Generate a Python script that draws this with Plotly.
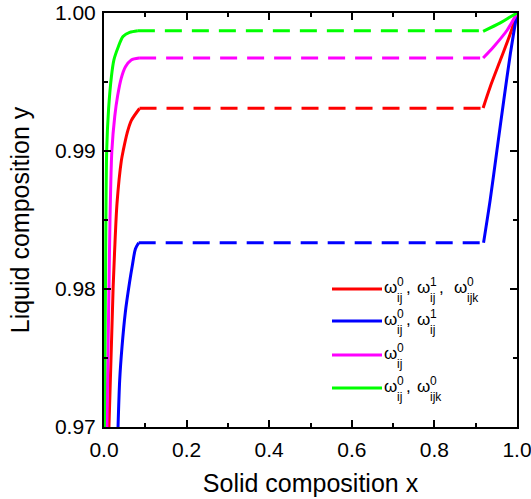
import plotly.graph_objects as go

# ---------------- data ----------------
x_ticks = [0.0, 0.2, 0.4, 0.6, 0.8, 1.0]
x_ticktext = ["0.0", "0.2", "0.4", "0.6", "0.8", "1.0"]
y_ticks = [0.97, 0.98, 0.99, 1.00]
y_ticktext = ["0.97", "0.98", "0.99", "1.00"]
x_minor = [0.1, 0.3, 0.5, 0.7, 0.9]
y_minor = [0.975, 0.985, 0.995]

# red: w0_ij, w1_ij, w0_ijk
red_left_x = [0.012, 0.022, 0.0255, 0.0315, 0.042, 0.047, 0.056, 0.066, 0.086]
red_left_y = [0.970, 0.980, 0.9826, 0.9862, 0.9893, 0.9901, 0.9913, 0.9922, 0.99308]
red_plateau_x = [0.086, 0.918]
red_plateau_y = [0.99310, 0.99310]
red_right_x = [0.918, 0.935, 0.9595, 0.984, 1.0]
red_right_y = [0.99312, 0.99464, 0.99657, 0.99851, 1.0]

# blue: w0_ij, w1_ij
blue_left_x = [0.034, 0.038, 0.0436, 0.0516, 0.062, 0.0686, 0.076, 0.084]
blue_left_y = [0.970, 0.9734, 0.9758, 0.9783, 0.9805, 0.9817, 0.9829, 0.98335]
blue_plateau_x = [0.084, 0.919]
blue_plateau_y = [0.98335, 0.98335]
blue_right_x = [0.919, 0.935, 0.9515, 0.968, 0.984, 1.0]
blue_right_y = [0.98335, 0.98644, 0.99006, 0.99368, 0.99706, 1.0]

# magenta: w0_ij
mag_left_x = [0.007, 0.012, 0.0145, 0.019, 0.026, 0.033, 0.042, 0.052, 0.066, 0.085]
mag_left_y = [0.970, 0.980, 0.985, 0.990, 0.9925, 0.9940, 0.9953, 0.9961, 0.9966, 0.99674]
mag_plateau_x = [0.085, 0.918]
mag_plateau_y = [0.99674, 0.99674]
mag_right_x = [0.918, 0.943, 0.976, 1.0]
mag_right_y = [0.99674, 0.99754, 0.99875, 1.0]

# green: w0_ij, w0_ijk
green_left_x = [0.001, 0.0035, 0.0065, 0.011, 0.018, 0.024, 0.034, 0.046, 0.062, 0.082]
green_left_y = [0.970, 0.980, 0.990, 0.9930, 0.9954, 0.9966, 0.9975, 0.9983, 0.9986, 0.99872]
green_plateau_x = [0.082, 0.918]
green_plateau_y = [0.99872, 0.99872]
green_right_x = [0.918, 0.9595, 0.98, 1.0]
green_right_y = [0.99867, 0.99928, 0.99965, 1.0]

# legend entries: list of (superscript, subscript) per omega term
legend_terms = [
    [("0", "ij"), ("1", "ij"), ("0", "ijk")],
    [("0", "ij"), ("1", "ij")],
    [("0", "ij")],
    [("0", "ij"), ("0", "ijk")],
]

# ---------------- styling / layout ----------------
FONT = "Arial, Liberation Sans, sans-serif"
FIG_W, FIG_H = 531, 499
L, T, R, B = 104, 13, 517, 427
W, H = R - L, B - T
LW = 3
DASH = "17px,10px"

colors = ["#FF0000", "#0000FF", "#FF00FF", "#00FF00"]
series = [
    (red_left_x, red_left_y, red_plateau_x, red_plateau_y, red_right_x, red_right_y),
    (blue_left_x, blue_left_y, blue_plateau_x, blue_plateau_y, blue_right_x, blue_right_y),
    (mag_left_x, mag_left_y, mag_plateau_x, mag_plateau_y, mag_right_x, mag_right_y),
    (green_left_x, green_left_y, green_plateau_x, green_plateau_y, green_right_x, green_right_y),
]

fig = go.Figure()
for color, (xl, yl, xp, yp, xr, yr) in zip(colors, series):
    fig.add_trace(go.Scatter(x=xl, y=yl, mode="lines", showlegend=False,
                             line=dict(color=color, width=LW, shape="spline", smoothing=0.8)))
    fig.add_trace(go.Scatter(x=xp, y=yp, mode="lines", showlegend=False,
                             line=dict(color=color, width=LW, dash=DASH)))
    fig.add_trace(go.Scatter(x=xr, y=yr, mode="lines", showlegend=False,
                             line=dict(color=color, width=LW, shape="spline", smoothing=0.8)))


def px_x(px):
    return (px - L) / W


def px_y(py):
    return 1 - (py - T) / H


# ---- hand-built legend (stacked super/subscripts) ----
row_y = [289, 321, 355, 388]
omega_x = [383, 416, 453]
comma_x = [404.5, 437.5]
BASE_SIZE, SCRIPT_SIZE = 17, 12
SCRIPT_GAP = 12.5


def add_text(px, py, txt, size):
    fig.add_annotation(x=px_x(px), y=px_y(py), xref="paper", yref="paper",
                       text=txt, showarrow=False, xanchor="left", yanchor="middle",
                       align="left", borderpad=0,
                       font=dict(family=FONT, size=size, color="black"))


for ly, color, terms in zip(row_y, colors, legend_terms):
    fig.add_shape(type="line", xref="paper", yref="paper",
                  x0=px_x(332), x1=px_x(382), y0=px_y(ly), y1=px_y(ly),
                  line=dict(color=color, width=LW))
    for k, (sup, sub) in enumerate(terms):
        ox = omega_x[k]
        add_text(ox, ly - 1.5, "ω", BASE_SIZE)
        add_text(ox + SCRIPT_GAP, ly + 0.5, sup + "<br>" + sub, SCRIPT_SIZE)
        if k < len(terms) - 1:
            add_text(comma_x[k] + (0.5 if k == 1 else 0), ly - 1.5, ",", BASE_SIZE)

axis_common = dict(
    showgrid=False, zeroline=False, showline=True, linecolor="black", linewidth=2,
    mirror="allticks", ticks="inside", ticklen=7, tickwidth=1.5, tickcolor="black",
    tickfont=dict(family=FONT, size=21, color="black"), ticklabeloverflow="allow",
)

fig.update_xaxes(range=[0, 1], tickvals=x_ticks, ticktext=x_ticktext,
                 minor=dict(tickvals=x_minor, ticks="inside", ticklen=4, tickwidth=1.5, tickcolor="black"),
                 title=dict(text="Solid composition x", font=dict(family=FONT, size=25, color="black"),
                            standoff=14),
                 ticklabelstandoff=3,
                 **axis_common)
fig.update_yaxes(range=[0.97, 1.0], tickvals=y_ticks, ticktext=y_ticktext,
                 minor=dict(tickvals=y_minor, ticks="inside", ticklen=4, tickwidth=1.5, tickcolor="black"),
                 title=dict(text="Liquid composition y", font=dict(family=FONT, size=25, color="black"),
                            standoff=18),
                 ticklabelstandoff=2,
                 **axis_common)

fig.update_layout(
    width=FIG_W, height=FIG_H,
    margin=dict(l=L, r=FIG_W - R, t=T, b=FIG_H - B, autoexpand=False),
    paper_bgcolor="white", plot_bgcolor="white",
    showlegend=False,
    font=dict(family=FONT, color="black"),
)

fig.write_html("out.html")
